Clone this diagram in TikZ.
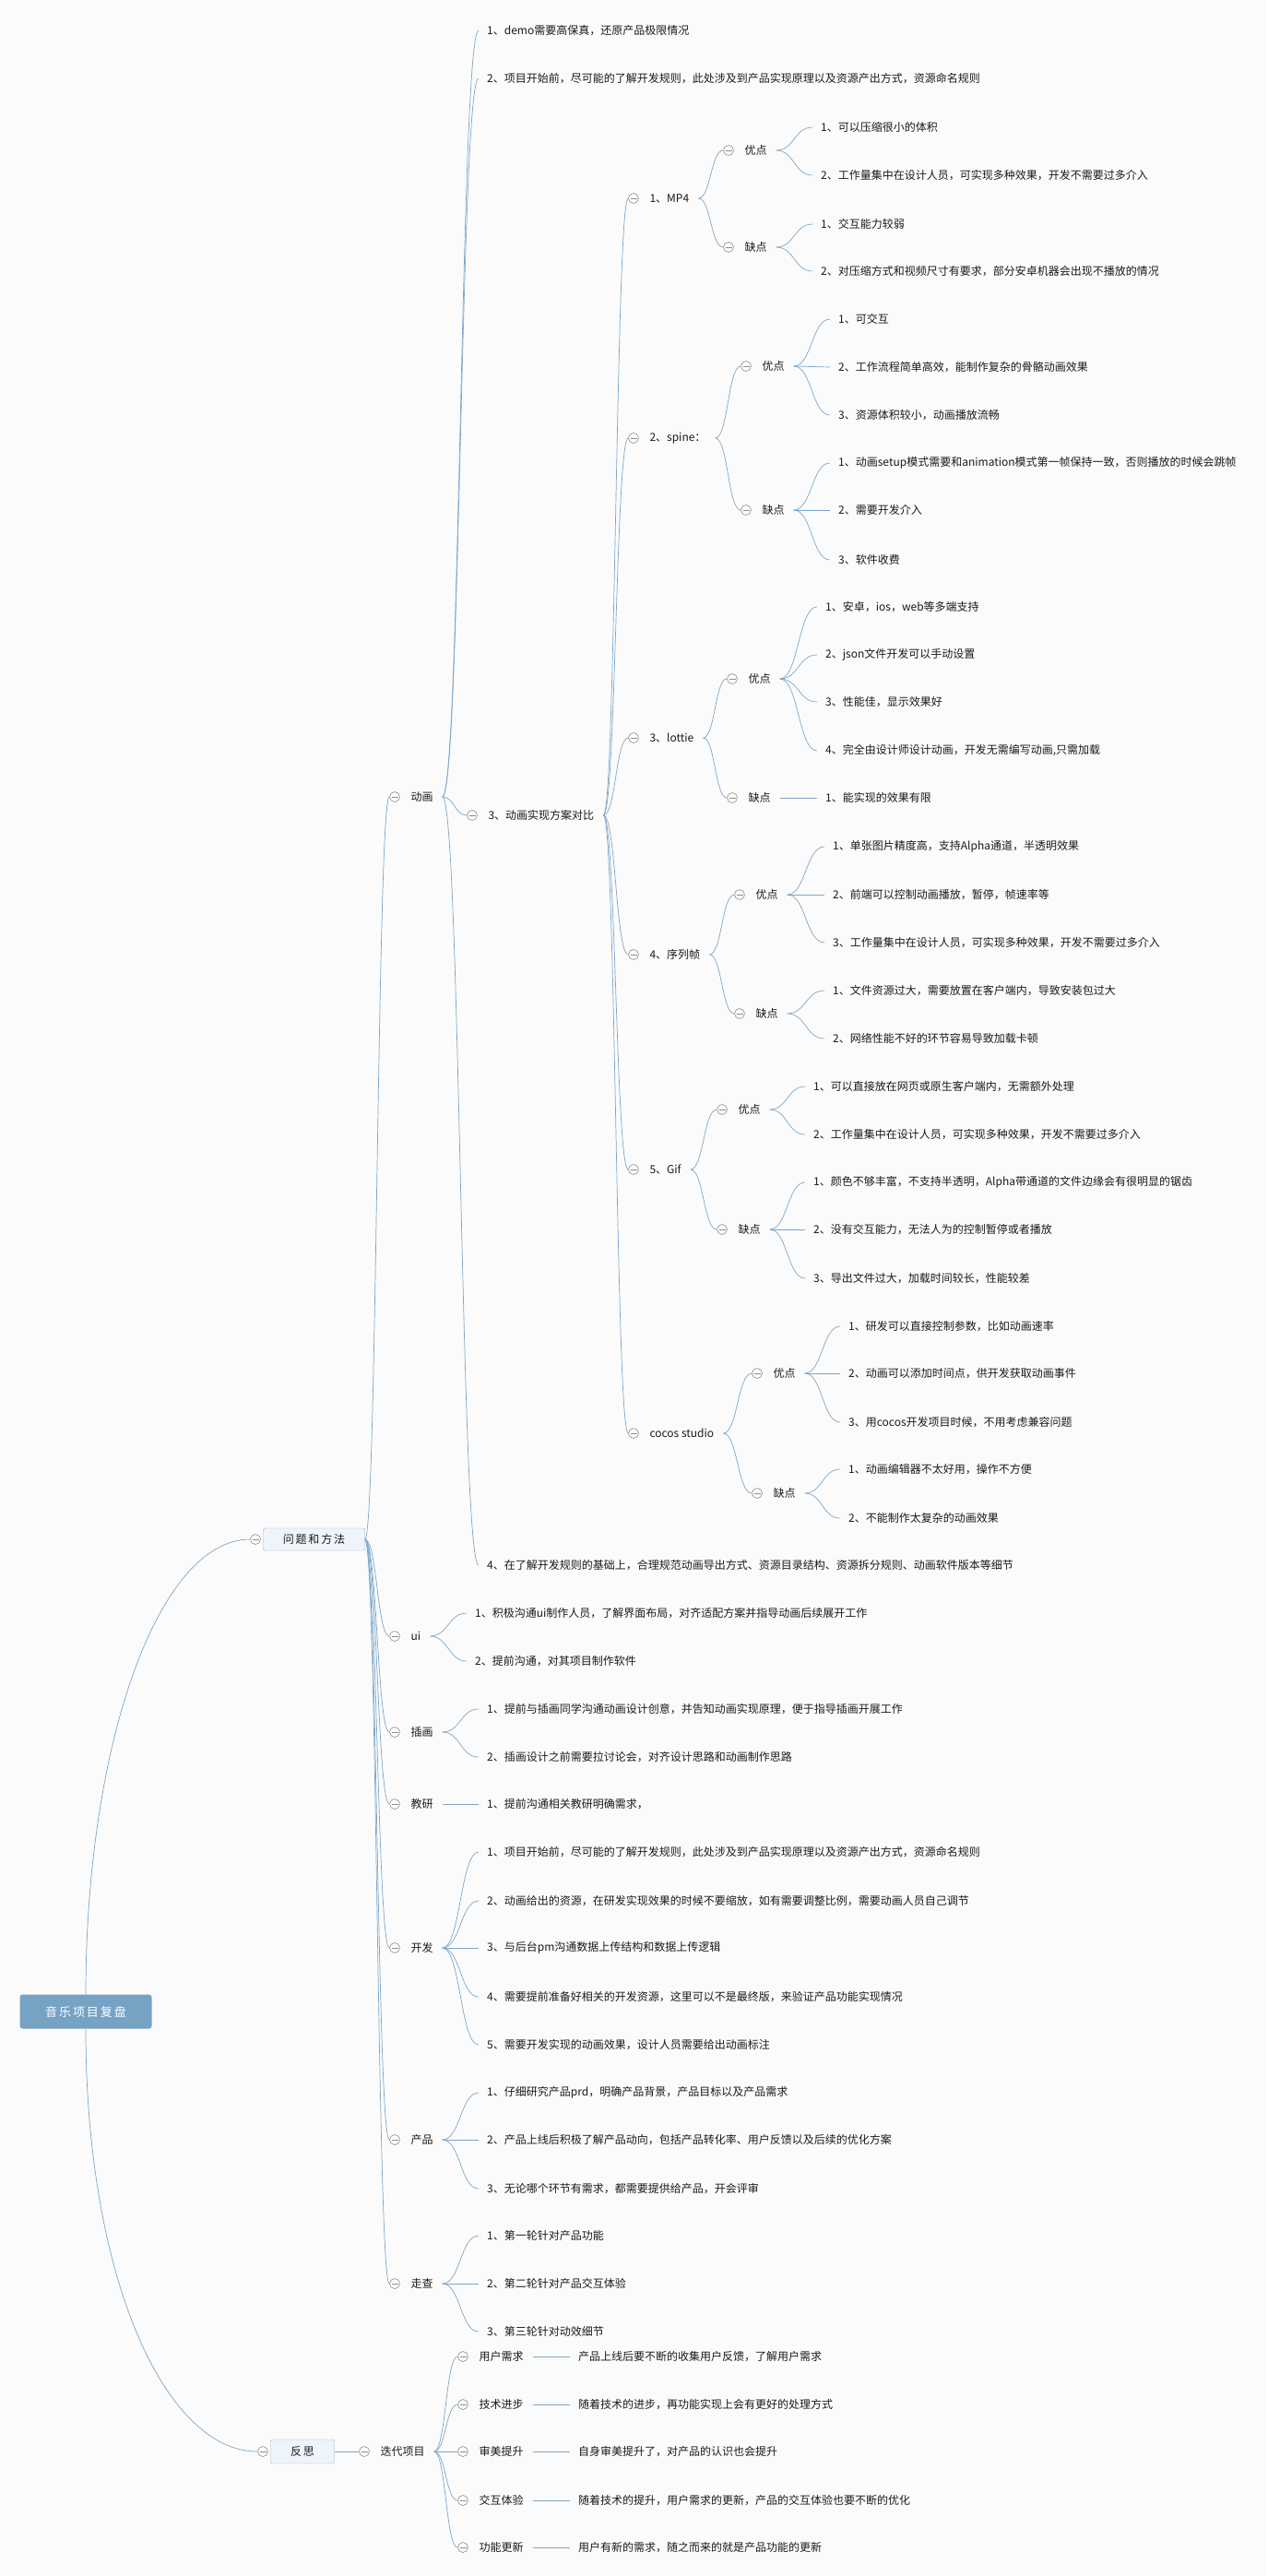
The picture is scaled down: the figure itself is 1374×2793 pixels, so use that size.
\documentclass[tikz,border=0pt]{standalone}
\usepackage{fontspec}
\usetikzlibrary{positioning,calc}
\newfontfamily\cjk{Noto Sans CJK SC}
\newfontfamily\cjkbox[LetterSpace=15]{Noto Sans CJK SC}
\definecolor{bg}{HTML}{FBFBFB}
\definecolor{linkblue}{HTML}{7DA6C9}
\definecolor{foldgray}{HTML}{8E8E8E}
\definecolor{txtgray}{HTML}{1A1A1A}
\definecolor{rootblue}{HTML}{76A2C3}
\definecolor{boxfill}{HTML}{EEF4F9}
\definecolor{boxline}{HTML}{8FB4D2}
\tikzstyle{line} = [draw=linkblue, line width=0.7pt]
\tikzstyle{leaf} = [anchor=west, inner xsep=9pt, inner ysep=1pt, text=txtgray, font=\cjk\fontsize{12}{14}\selectfont]
\tikzstyle{topic} = [inner sep=0pt, text=txtgray, font=\cjk\fontsize{12}{14}\selectfont]
\tikzstyle{fold} = [circle, draw=foldgray, fill=bg, line width=0.6pt, minimum size=11pt, inner sep=0pt,
    path picture={\draw[foldgray, line width=0.6pt] ([xshift=-3.5pt]path picture bounding box.center) -- ([xshift=3.5pt]path picture bounding box.center);}]
\tikzstyle{mainbox} = [rectangle, rounded corners=1.5pt, draw=boxline, fill=boxfill, text=txtgray, minimum height=24pt, inner sep=0pt, font=\cjkbox\fontsize{12}{14}\selectfont]
\tikzstyle{rootbox} = [rectangle, rounded corners=3pt, fill=rootblue, text=white, minimum width=143pt, minimum height=37pt, font=\cjkbox\fontsize{13}{15}\selectfont]
\newcommand{\knot}[4]{%
    \node[fold] (#1c) at (#2,#3) {};
    \node[topic, right=11.5pt of #1c] (#1) {#4};
    \coordinate (#1b) at ([xshift=10pt]#1.east);}
\newcommand{\twig}[2]{%
    \coordinate (tw) at ($(#1)!0.5!(#2)$);
    \draw[line] (#1) .. controls (tw |- #1) and (tw |- #2) .. (#2);}

\begin{document}
\begin{tikzpicture}[x=1pt, y=-1pt]
    \fill[bg] (0,0) rectangle (1374,2793);

    \node[rootbox] (root) at (93,2181) {音乐项目复盘};
    \node[fold] (wtc) at (277,1669) {};
    \node[mainbox, minimum width=110pt, right=2.5pt of wtc] (wt) {问题和方法};
    \node[fold] (fsc) at (285,2658) {};
    \node[mainbox, minimum width=69pt, minimum height=26pt, right=2.5pt of fsc] (fs) {反思};
    \draw[line] (root.north) .. controls +(0,-270) and +(-100,0) .. (wtc.west);
    \draw[line] (root.south) .. controls +(0,270) and +(-100,0) .. (fsc.west);

    \knot{dh}{428}{864}{动画}
    \knot{ui}{428}{1774}{ui}
    \knot{ch}{428}{1878}{插画}
    \knot{jy}{428}{1956}{教研}
    \knot{kf}{428}{2112}{开发}
    \knot{cp}{428}{2320}{产品}
    \knot{zc}{428}{2476}{走查}
    \twig{wt.east}{dhc.west}
    \twig{wt.east}{uic.west}
    \twig{wt.east}{chc.west}
    \twig{wt.east}{jyc.west}
    \twig{wt.east}{kfc.west}
    \twig{wt.east}{cpc.west}
    \twig{wt.east}{zcc.west}

    \node[leaf] (dh1) at (519,33) {1、demo需要高保真，还原产品极限情况};
    \node[leaf] (dh2) at (519,85) {2、项目开始前，尽可能的了解开发规则，此处涉及到产品实现原理以及资源产出方式，资源命名规则};
    \knot{dh3}{512}{884}{3、动画实现方案对比}
    \node[leaf] (dh4) at (519,1697) {4、在了解开发规则的基础上，合理规范动画导出方式、资源目录结构、资源拆分规则、动画软件版本等细节};
    \twig{dhb}{dh1.west}
    \twig{dhb}{dh2.west}
    \twig{dhb}{dh3c.west}
    \twig{dhb}{dh4.west}

    \knot{mp}{687}{215}{1、MP4}
    \knot{sp}{687}{475}{2、spine：}
    \knot{lt}{687}{800}{3、lottie}
    \knot{xl}{687}{1035}{4、序列帧}
    \knot{gf}{687}{1268}{5、Gif}
    \knot{cc}{687}{1554}{cocos studio}
    \twig{dh3b}{mpc.west}
    \twig{dh3b}{spc.west}
    \twig{dh3b}{ltc.west}
    \twig{dh3b}{xlc.west}
    \twig{dh3b}{gfc.west}
    \twig{dh3b}{ccc.west}

    \knot{mpy}{790}{163}{优点}
    \knot{mpq}{790}{268}{缺点}
    \twig{mpb}{mpyc.west}
    \twig{mpb}{mpqc.west}
    \node[leaf] (mpy1) at (881,138) {1、可以压缩很小的体积};
    \node[leaf] (mpy2) at (881,190) {2、工作量集中在设计人员，可实现多种效果，开发不需要过多介入};
    \node[leaf] (mpq1) at (881,243) {1、交互能力较弱};
    \node[leaf] (mpq2) at (881,294) {2、对压缩方式和视频尺寸有要求，部分安卓机器会出现不播放的情况};
    \twig{mpyb}{mpy1.west}
    \twig{mpyb}{mpy2.west}
    \twig{mpqb}{mpq1.west}
    \twig{mpqb}{mpq2.west}

    \knot{spy}{809}{397}{优点}
    \knot{spq}{809}{553}{缺点}
    \twig{spb}{spyc.west}
    \twig{spb}{spqc.west}
    \node[leaf] (spy1) at (900,346) {1、可交互};
    \node[leaf] (spy2) at (900,398) {2、工作流程简单高效，能制作复杂的骨骼动画效果};
    \node[leaf] (spy3) at (900,450) {3、资源体积较小，动画播放流畅};
    \node[leaf] (spq1) at (900,502) {1、动画setup模式需要和animation模式第一帧保持一致，否则播放的时候会跳帧};
    \node[leaf] (spq2) at (900,553) {2、需要开发介入};
    \node[leaf] (spq3) at (900,607) {3、软件收费};
    \twig{spyb}{spy1.west}
    \twig{spyb}{spy2.west}
    \twig{spyb}{spy3.west}
    \twig{spqb}{spq1.west}
    \twig{spqb}{spq2.west}
    \twig{spqb}{spq3.west}

    \knot{lty}{794}{736}{优点}
    \knot{ltq}{794}{865}{缺点}
    \twig{ltb}{ltyc.west}
    \twig{ltb}{ltqc.west}
    \node[leaf] (lty1) at (886,658) {1、安卓，ios，web等多端支持};
    \node[leaf] (lty2) at (886,710) {2、json文件开发可以手动设置};
    \node[leaf] (lty3) at (886,761) {3、性能佳，显示效果好};
    \node[leaf] (lty4) at (886,814) {4、完全由设计师设计动画，开发无需编写动画,只需加载};
    \node[leaf] (ltq1) at (886,865) {1、能实现的效果有限};
    \twig{ltyb}{lty1.west}
    \twig{ltyb}{lty2.west}
    \twig{ltyb}{lty3.west}
    \twig{ltyb}{lty4.west}
    \twig{ltqb}{ltq1.west}

    \knot{xly}{802}{970}{优点}
    \knot{xlq}{802}{1099}{缺点}
    \twig{xlb}{xlyc.west}
    \twig{xlb}{xlqc.west}
    \node[leaf] (xly1) at (894,918) {1、单张图片精度高，支持Alpha通道，半透明效果};
    \node[leaf] (xly2) at (894,970) {2、前端可以控制动画播放，暂停，帧速率等};
    \node[leaf] (xly3) at (894,1022) {3、工作量集中在设计人员，可实现多种效果，开发不需要过多介入};
    \node[leaf] (xlq1) at (894,1074) {1、文件资源过大，需要放置在客户端内，导致安装包过大};
    \node[leaf] (xlq2) at (894,1126) {2、网络性能不好的环节容易导致加载卡顿};
    \twig{xlyb}{xly1.west}
    \twig{xlyb}{xly2.west}
    \twig{xlyb}{xly3.west}
    \twig{xlqb}{xlq1.west}
    \twig{xlqb}{xlq2.west}

    \knot{gfy}{783}{1203}{优点}
    \knot{gfq}{783}{1333}{缺点}
    \twig{gfb}{gfyc.west}
    \twig{gfb}{gfqc.west}
    \node[leaf] (gfy1) at (873,1178) {1、可以直接放在网页或原生客户端内，无需额外处理};
    \node[leaf] (gfy2) at (873,1230) {2、工作量集中在设计人员，可实现多种效果，开发不需要过多介入};
    \node[leaf] (gfq1) at (873,1282) {1、颜色不够丰富，不支持半透明，Alpha带通道的文件边缘会有很明显的锯齿};
    \node[leaf] (gfq2) at (873,1333) {2、没有交互能力，无法人为的控制暂停或者播放};
    \node[leaf] (gfq3) at (873,1386) {3、导出文件过大，加载时间较长，性能较差};
    \twig{gfyb}{gfy1.west}
    \twig{gfyb}{gfy2.west}
    \twig{gfqb}{gfq1.west}
    \twig{gfqb}{gfq2.west}
    \twig{gfqb}{gfq3.west}

    \knot{ccy}{821}{1489}{优点}
    \knot{ccq}{821}{1619}{缺点}
    \twig{ccb}{ccyc.west}
    \twig{ccb}{ccqc.west}
    \node[leaf] (ccy1) at (911,1438) {1、研发可以直接控制参数，比如动画速率};
    \node[leaf] (ccy2) at (911,1489) {2、动画可以添加时间点，供开发获取动画事件};
    \node[leaf] (ccy3) at (911,1542) {3、用cocos开发项目时候，不用考虑兼容问题};
    \node[leaf] (ccq1) at (911,1593) {1、动画编辑器不太好用，操作不方便};
    \node[leaf] (ccq2) at (911,1646) {2、不能制作太复杂的动画效果};
    \twig{ccyb}{ccy1.west}
    \twig{ccyb}{ccy2.west}
    \twig{ccyb}{ccy3.west}
    \twig{ccqb}{ccq1.west}
    \twig{ccqb}{ccq2.west}

    \node[leaf] (ui1) at (506,1749) {1、积极沟通ui制作人员，了解界面布局，对齐适配方案并指导动画后续展开工作};
    \node[leaf] (ui2) at (506,1801) {2、提前沟通，对其项目制作软件};
    \twig{uib}{ui1.west}
    \twig{uib}{ui2.west}

    \node[leaf] (ch1) at (519,1853) {1、提前与插画同学沟通动画设计创意，并告知动画实现原理，便于指导插画开展工作};
    \node[leaf] (ch2) at (519,1905) {2、插画设计之前需要拉讨论会，对齐设计思路和动画制作思路};
    \twig{chb}{ch1.west}
    \twig{chb}{ch2.west}

    \node[leaf] (jy1) at (519,1956) {1、提前沟通相关教研明确需求，};
    \twig{jyb}{jy1.west}

    \node[leaf] (kf1) at (519,2008) {1、项目开始前，尽可能的了解开发规则，此处涉及到产品实现原理以及资源产出方式，资源命名规则};
    \node[leaf] (kf2) at (519,2061) {2、动画给出的资源，在研发实现效果的时候不要缩放，如有需要调整比例，需要动画人员自己调节};
    \node[leaf] (kf3) at (519,2112) {3、与后台pm沟通数据上传结构和数据上传逻辑};
    \node[leaf] (kf4) at (519,2165) {4、需要提前准备好相关的开发资源，这里可以不是最终版，来验证产品功能实现情况};
    \node[leaf] (kf5) at (519,2217) {5、需要开发实现的动画效果，设计人员需要给出动画标注};
    \twig{kfb}{kf1.west}
    \twig{kfb}{kf2.west}
    \twig{kfb}{kf3.west}
    \twig{kfb}{kf4.west}
    \twig{kfb}{kf5.west}

    \node[leaf] (cp1) at (519,2269) {1、仔细研究产品prd，明确产品背景，产品目标以及产品需求};
    \node[leaf] (cp2) at (519,2320) {2、产品上线后积极了解产品动向，包括产品转化率、用户反馈以及后续的优化方案};
    \node[leaf] (cp3) at (519,2373) {3、无论哪个环节有需求，都需要提供给产品，开会评审};
    \twig{cpb}{cp1.west}
    \twig{cpb}{cp2.west}
    \twig{cpb}{cp3.west}

    \node[leaf] (zc1) at (519,2424) {1、第一轮针对产品功能};
    \node[leaf] (zc2) at (519,2476) {2、第二轮针对产品交互体验};
    \node[leaf] (zc3) at (519,2528) {3、第三轮针对动效细节};
    \twig{zcb}{zc1.west}
    \twig{zcb}{zc2.west}
    \twig{zcb}{zc3.west}

    \knot{dd}{395}{2658}{迭代项目}
    \twig{fs.east}{ddc.west}
    \knot{yh}{502}{2555}{用户需求}
    \knot{js}{502}{2607}{技术进步}
    \knot{sm}{502}{2658}{审美提升}
    \knot{jh}{502}{2711}{交互体验}
    \knot{gn}{502}{2762}{功能更新}
    \twig{ddb}{yhc.west}
    \twig{ddb}{jsc.west}
    \twig{ddb}{smc.west}
    \twig{ddb}{jhc.west}
    \twig{ddb}{gnc.west}
    \node[leaf] (yh1) at (618,2555) {产品上线后要不断的收集用户反馈，了解用户需求};
    \node[leaf] (js1) at (618,2607) {随着技术的进步，再功能实现上会有更好的处理方式};
    \node[leaf] (sm1) at (618,2658) {自身审美提升了，对产品的认识也会提升};
    \node[leaf] (jh1) at (618,2711) {随着技术的提升，用户需求的更新，产品的交互体验也要不断的优化};
    \node[leaf] (gn1) at (618,2762) {用户有新的需求，随之而来的就是产品功能的更新};
    \draw[line] (yhb) -- (yh1.west);
    \draw[line] (jsb) -- (js1.west);
    \draw[line] (smb) -- (sm1.west);
    \draw[line] (jhb) -- (jh1.west);
    \draw[line] (gnb) -- (gn1.west);
\end{tikzpicture}
\end{document}
